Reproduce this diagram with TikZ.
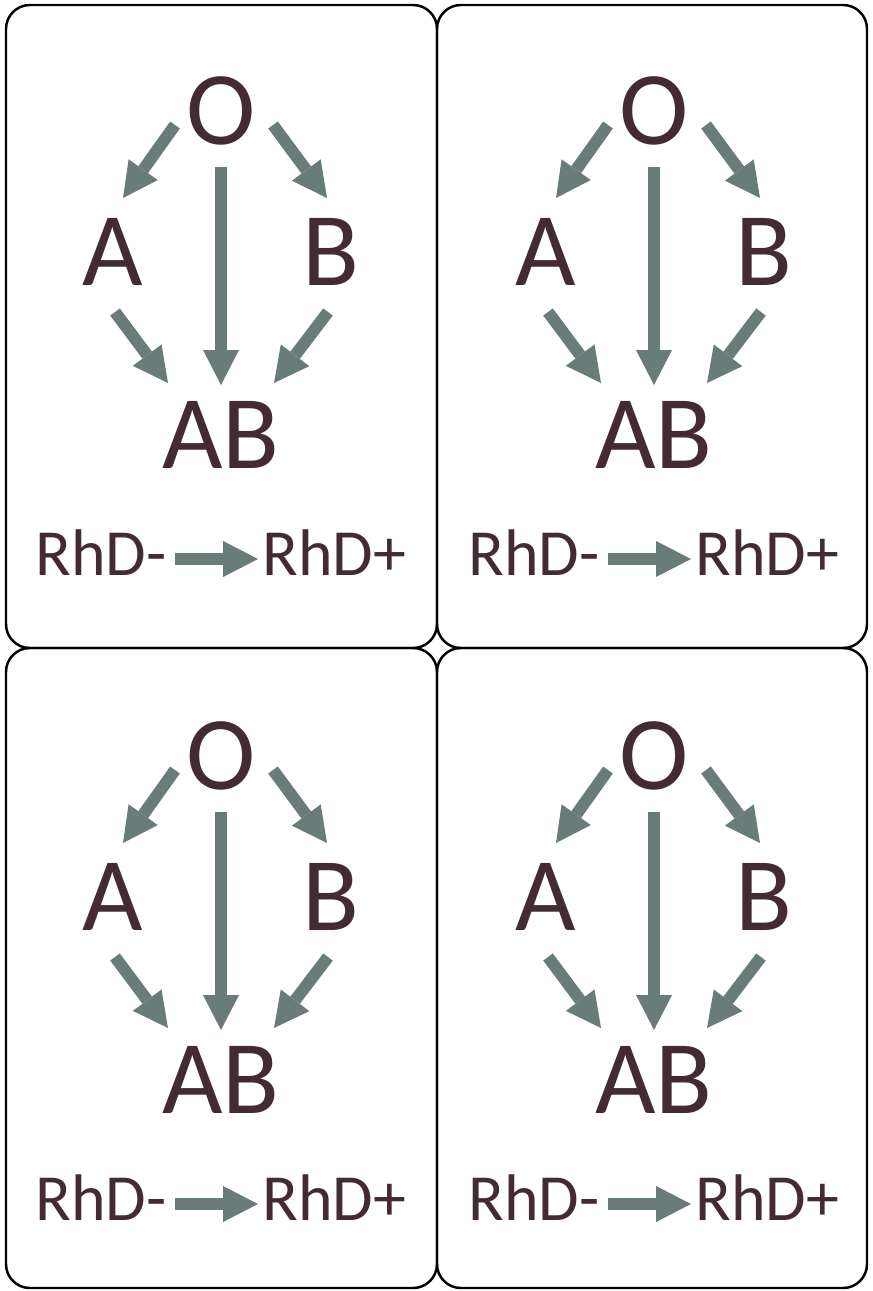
\documentclass[tikz,border=0pt]{standalone}
\usepackage{fontspec}
\setmainfont{Carlito}
\usepackage{tikz}
\usetikzlibrary{arrows.meta}
\definecolor{bloodtext}{HTML}{442A35}
\definecolor{arrowgray}{HTML}{687C7A}

\begin{document}
\begin{tikzpicture}[
		x=0.02cm, y=-0.02cm,
		card/.style={line width=1.4pt, rounded corners=13.6pt},
		group/.style={text=bloodtext, inner sep=0pt, anchor=base, font=\fontsize{59.5}{60}\selectfont},
		rhesus/.style={text=bloodtext, inner sep=0pt, font=\fontsize{37.5}{38}\selectfont},
		donate/.style={line width=6.8pt, arrowgray, -{Triangle[width=20.4pt,length=19.8pt,line width=0pt]}}
		]
		\useasboundingbox (0,0) rectangle (872,1291);
		% Draw cards
		\draw[card] (6,5) rectangle (437,648);
		\draw[card] (437,5) rectangle (867,648);
		\draw[card] (6,648) rectangle (437,1288);
		\draw[card] (437,648) rectangle (867,1288);
		
		\foreach \n/\dx/\dy in {1/0/0, 2/433/0, 3/0/645, 4/433/645}{
		\begin{scope}[shift={(\dx,\dy)}]
		\node[group] (O\n) at (221,144) {O};
		\node[group] (A\n) at (113,285) {A};
		\node[group] (B\n) at (331,285) {B};
		\node[group] (AB\n) at (221,468) {AB};
		\node[rhesus, anchor=base east] (neg\n) at (167,575) {RhD-};
		\node[rhesus, anchor=base west] (pos\n) at (262,575) {RhD+};
		
		\draw
		(175,125) coordinate (oa\n)
		(123,198) coordinate (ao\n)
		(273,125) coordinate (ob\n)
		(327,198) coordinate (bo\n)
		(221,167) coordinate (oab\n)
		(221,385) coordinate (abo\n)
		(115,312) coordinate (aab\n)
		(168,383) coordinate (aba\n)
		(328,312) coordinate (bab\n)
		(274,383) coordinate (abb\n)
		(175,559) coordinate (rn\n)
		(258,559) coordinate (rp\n);
		
		\draw[donate] (oa\n) -- (ao\n);
		\draw[donate] (ob\n) -- (bo\n);
		\draw[donate] (oab\n) -- (abo\n);
		\draw[donate] (aab\n) -- (aba\n);
		\draw[donate] (bab\n) -- (abb\n);
		\draw[donate] (rn\n) -- (rp\n);
		\end{scope}
		}
		\end{tikzpicture}
\end{document}
